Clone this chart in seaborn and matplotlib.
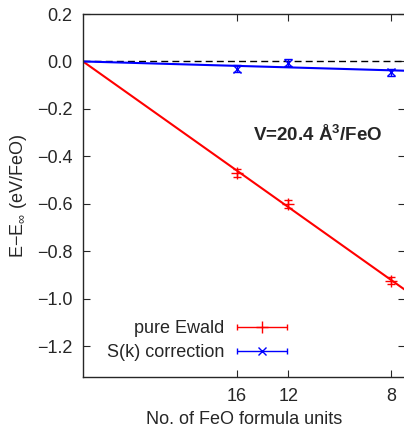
import numpy as np
import matplotlib
matplotlib.use("Agg")
import matplotlib.pyplot as plt
from matplotlib.container import ErrorbarContainer
from matplotlib.legend_handler import HandlerErrorbar
import seaborn as sns

# data: energy vs inverse number of FeO formula units
n_units = np.array([16, 12, 8])
ewald = np.array([-0.47, -0.60, -0.925])
ewald_err = np.array([0.015, 0.017, 0.015])
sk_corr = np.array([-0.03, -0.005, -0.045])
sk_err = np.array([0.015, 0.015, 0.015])

inv_n = 1.0 / n_units

# straight fits through the origin
def fit_origin(x, y):
    return np.sum(x * y) / np.sum(x * x)

x_line = np.array([0.0, 0.135])
red_line = fit_origin(inv_n, ewald) * x_line
blue_line = fit_origin(inv_n, sk_corr) * x_line

sns.set_style("ticks")
plt.rcParams['font.family'] = ['Liberation Sans', 'DejaVu Sans']
plt.rcParams['mathtext.fontset'] = 'custom'
plt.rcParams['mathtext.rm'] = 'Liberation Sans'
plt.rcParams['mathtext.bf'] = 'Liberation Sans:bold'
plt.rcParams['mathtext.it'] = 'Liberation Sans:italic'
fs = 13

fig = plt.figure(figsize=(4.04, 4.33), dpi=100)
ax = fig.add_axes([83 / 404, 56 / 433, 322 / 404, 363 / 433])

ax.axhline(0, color='black', ls=(0, (5, 3)), lw=1)
sns.lineplot(x=x_line, y=red_line, color='red', lw=1.5, ax=ax)
sns.lineplot(x=x_line, y=blue_line, color='blue', lw=1.5, ax=ax)

ax.errorbar(inv_n, ewald, yerr=ewald_err, fmt='+', color='red', ms=8,
            capsize=3, elinewidth=1)
ax.errorbar(inv_n, sk_corr, yerr=sk_err, fmt='x', color='blue', ms=6,
            capsize=3, elinewidth=1)

# legend proxies drawn gnuplot-style with horizontal bars
h1 = ax.errorbar([np.nan], [np.nan], xerr=[1], fmt='+', color='red', ms=8,
                 capsize=2.5, elinewidth=1, label='pure Ewald')
h2 = ax.errorbar([np.nan], [np.nan], xerr=[1], fmt='x', color='blue', ms=6,
                 capsize=2.5, elinewidth=1, label='S(k) correction')

ax.set_xlim(0, 0.1307)
ax.set_ylim(-1.33, 0.2)
ax.set_xticks(inv_n)
ax.set_xticklabels([str(n) for n in n_units])
ax.set_yticks(np.arange(-1.2, 0.21, 0.2))
ax.yaxis.set_major_formatter(matplotlib.ticker.FuncFormatter(
    lambda v, p: ('%.1f' % v).replace('-', '\u2212') if abs(v) > 1e-9 else '0.0'))
ax.tick_params(direction='in', top=True, right=True, length=5, width=0.8,
               labelsize=fs)
ax.tick_params(axis='x', pad=8)
ax.tick_params(axis='y', pad=7.5)
for s in ax.spines.values():
    s.set_linewidth(1)

ax.set_xlabel('No. of FeO formula units', fontsize=fs, labelpad=4)
ax.set_ylabel('E\u2212E$_\\infty$ (eV/FeO)', fontsize=fs, labelpad=6)

ax.text(0.0952, -0.31, r'V=20.4 Å$^\mathbf{3}$/FeO', fontsize=13.5,
        fontweight='bold', ha='center', va='center')

ax.legend(handles=[h1, h2], loc='center right', bbox_to_anchor=(0.634, 0.1006),
          frameon=False, markerfirst=False, handlelength=2.8, handletextpad=0.67,
          borderpad=0, borderaxespad=0, fontsize=fs, labelspacing=0.4,
          handler_map={ErrorbarContainer: HandlerErrorbar(xerr_size=1.39)})

fig.savefig('out.png', dpi=100)
